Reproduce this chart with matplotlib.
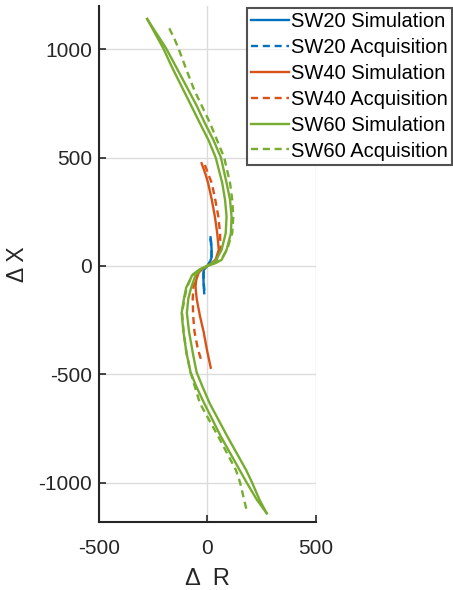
import matplotlib
matplotlib.use("Agg")
from matplotlib import pyplot as plt

plt.rcParams["font.family"] = ["Liberation Sans", "DejaVu Sans"]
plt.rcParams["axes.unicode_minus"] = False

# colours (MATLAB default order)
c_blue = "#0072BD"
c_orange = "#D95319"
c_green = "#77AC30"

# SW20  (R, X)
sw20_sim_R = [14, 17, 19, 19, 12, 5, 0, -8, -17, -19, -18, -15]
sw20_sim_X = [132, 110, 74, 40, 20, 8, 0, -8, -18, -40, -80, -126]
sw20_acq_R = [13, 16, 18, 18, 11, 4, 0, -7, -16, -18, -17, -14]
sw20_acq_X = [126, 106, 72, 38, 19, 7, 0, -7, -17, -38, -78, -120]

# SW40
sw40_sim_R = [-27, -8, 3, 20, 34, 45, 52, 38, 15, 0, -18, -40, -52, -55, -50, -35, -18, -2, 15]
sw40_sim_X = [474, 420, 382, 305, 228, 151, 74, 30, 10, 0, -10, -30, -65, -96, -150, -230, -303, -390, -470]
sw40_acq_R = [-12, 5, 20, 36, 50, 58, 60, 42, 15, 0, -18, -42, -58, -65, -68, -66, -60, -45, -25]
sw40_acq_X = [466, 420, 382, 305, 228, 151, 74, 30, 10, 0, -10, -30, -65, -96, -150, -230, -303, -380, -449]

# SW60 simulation: two strands
sw60_sim1_R = [-278, -204, -160, -111, -75, -35, 5, 38, 68, 81, 88, 84, 65, 40, 20, 0,
               -35, -70, -98, -108, -119, -111, -97, -78, -50, -15, 62, 148, 180, 228, 273]
sw60_sim1_X = [1140, 1005, 910, 812, 740, 659, 580, 500, 383, 305, 228, 151, 74, 28, 12, 0,
               -15, -42, -100, -149, -217, -303, -400, -491, -560, -634, -788, -942, -999, -1080, -1142]
sw60_sim2_R = [-278, -191, -140, -88, -50, -12, 28, 62, 88, 104, 111, 108, 88, 65, 35, 0,
               -30, -55, -75, -88, -95, -85, -68, -50, -22, 10, 92, 178, 205, 240, 273]
sw60_sim2_X = [1140, 1005, 910, 812, 740, 659, 580, 500, 383, 305, 228, 151, 74, 28, 12, 0,
               -15, -42, -100, -149, -217, -303, -400, -491, -560, -634, -788, -942, -999, -1080, -1142]
# SW60 acquisition
sw60_acq_R = [-176, -150, -134, -95, -61, 12, 77, 104, 114, 119, 114, 90, 62, 25, 0,
              -30, -70, -95, -106, -117, -110, -97, -78, -35, 50, 131, 150, 180]
sw60_acq_X = [1097, 1043, 1005, 900, 812, 659, 500, 383, 305, 228, 151, 74, 28, 10, 0,
              -15, -42, -100, -149, -217, -303, -400, -491, -634, -788, -942, -999, -1127]

fig = plt.figure(figsize=(4.53, 5.90), dpi=100)
ax = fig.add_axes([0.2185, 0.1153, 0.479, 0.8746])

lw = 1.7
dash = (0, (3, 2))
ax.plot(sw20_sim_R, sw20_sim_X, color=c_blue, lw=lw, label="SW20 Simulation")
ax.plot(sw20_acq_R, sw20_acq_X, color=c_blue, lw=lw, ls=dash, label="SW20 Acquisition")
ax.plot(sw40_sim_R, sw40_sim_X, color=c_orange, lw=lw, label="SW40 Simulation")
ax.plot(sw40_acq_R, sw40_acq_X, color=c_orange, lw=lw, ls=dash, label="SW40 Acquisition")
ax.plot(sw60_sim1_R, sw60_sim1_X, color=c_green, lw=lw, label="SW60 Simulation")
ax.plot(sw60_sim2_R, sw60_sim2_X, color=c_green, lw=lw)
ax.plot(sw60_acq_R, sw60_acq_X, color=c_green, lw=lw, ls=dash, label="SW60 Acquisition")

ax.set_xlim(-500, 500)
ax.set_ylim(-1182, 1200)
ax.set_xticks([-500, 0, 500])
ax.set_yticks([-1000, -500, 0, 500, 1000])
ax.grid(True, color="#dcdcdc", lw=1.0)
ax.set_axisbelow(True)
for s in ["top", "right"]:
    ax.spines[s].set_visible(False)
for s in ["left", "bottom"]:
    ax.spines[s].set_color("#262626")
    ax.spines[s].set_linewidth(1.5)
ax.tick_params(direction="in", length=5, width=1.2, colors="#262626", labelsize=15)
ax.tick_params(axis="x", pad=12)
ax.tick_params(axis="y", pad=5)
ax.set_xlabel("Δ  R", fontsize=17, color="#262626")
ax.set_ylabel("Δ X", fontsize=16.5, color="#262626")
ax.xaxis.set_label_coords(0.498, -0.089)
ax.yaxis.set_label_coords(-0.323, 0.5)

leg = fig.legend(loc="upper right", bbox_to_anchor=(0.998, 0.986), fontsize=14.5,
                 frameon=True, fancybox=False, handlelength=1.9, handletextpad=0.1,
                 borderpad=0.2, labelspacing=0.34, borderaxespad=0)
leg.get_frame().set_edgecolor("#262626")
leg.get_frame().set_linewidth(1.5)

fig.savefig("out.png", dpi=100)
